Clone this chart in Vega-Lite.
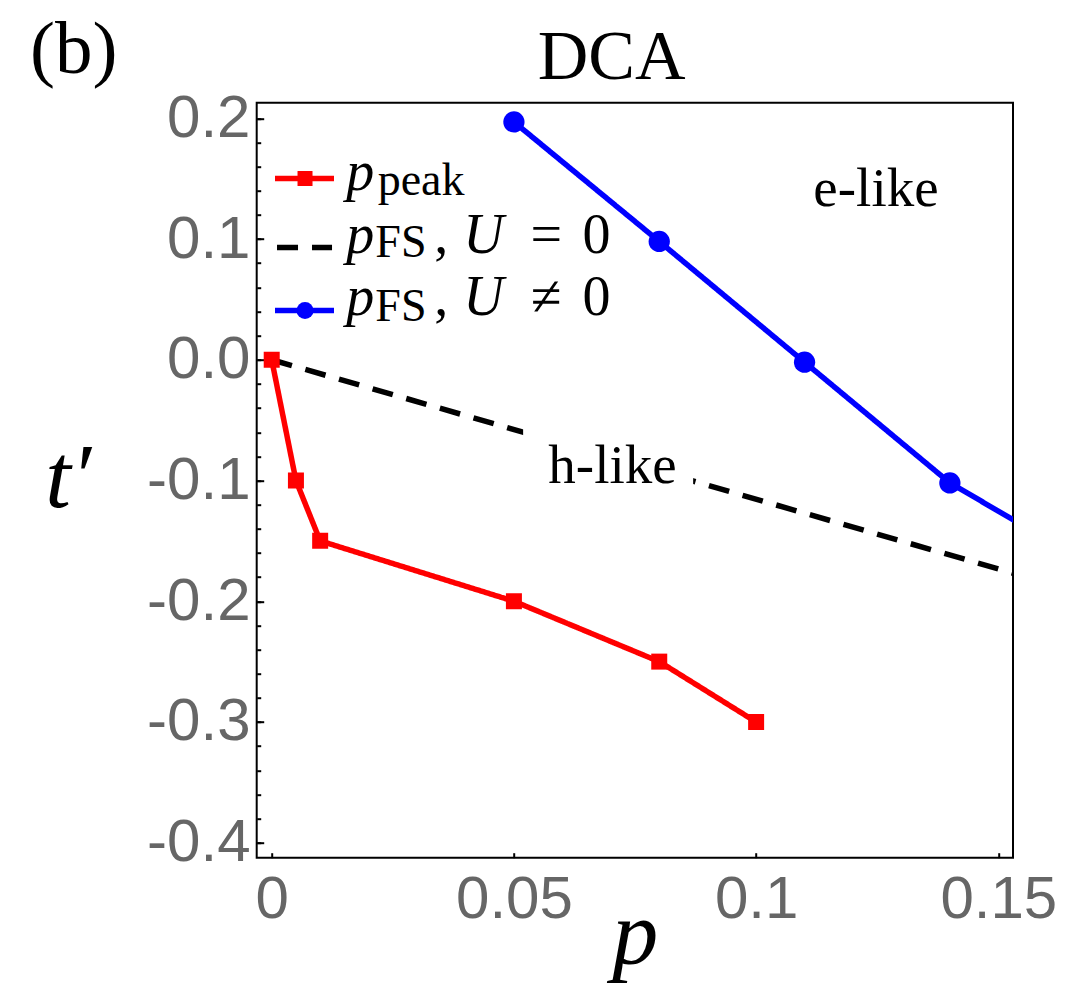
{
  "$schema": "https://vega.github.io/schema/vega-lite/v6.json",
  "width": 756.3,
  "height": 755,
  "autosize": {"type": "none"},
  "padding": {"left": 256.7, "top": 102.7, "right": 54, "bottom": 126.3},
  "background": "white",
  "config": {
    "view": {"stroke": "#000000", "strokeWidth": 2},
    "axis": {"grid": false, "domain": false}
  },
  "datasets": {
    "main": [
      {"series": "a_peak", "p": 0, "t": 0},
      {"series": "a_peak", "p": 0.005, "t": -0.1},
      {"series": "a_peak", "p": 0.01, "t": -0.15},
      {"series": "a_peak", "p": 0.05, "t": -0.2},
      {"series": "a_peak", "p": 0.08, "t": -0.25},
      {"series": "a_peak", "p": 0.1, "t": -0.3},
      {"series": "b_U0", "p": 0, "t": 0},
      {"series": "b_U0", "p": 0.2, "t": -0.231},
      {"series": "c_U1", "p": 0.05, "t": 0.197},
      {"series": "c_U1", "p": 0.08, "t": 0.098},
      {"series": "c_U1", "p": 0.11, "t": -0.002},
      {"series": "c_U1", "p": 0.14, "t": -0.102},
      {"series": "c_U1", "p": 0.17, "t": -0.172}
    ],
    "mask": [{"p1": 0.0519, "p2": 0.087, "t1": -0.045, "t2": -0.115}],
    "legline": [
      {"series": "a_peak", "x": 0.000681, "y": 0.1501},
      {"series": "a_peak", "x": 0.01286, "y": 0.1501},
      {"series": "b_U0", "x": 0.001094, "y": 0.0929},
      {"series": "b_U0", "x": 0.01245, "y": 0.0929},
      {"series": "c_U1", "x": 0.000681, "y": 0.0408},
      {"series": "c_U1", "x": 0.01286, "y": 0.0408}
    ],
    "legital": [
      {"x": 0.0183, "y": 0.1409, "text": "p"},
      {"x": 0.0183, "y": 0.0888, "text": "p"},
      {"x": 0.04372, "y": 0.0888, "text": "U"},
      {"x": 0.0183, "y": 0.0367, "text": "p"},
      {"x": 0.04372, "y": 0.0367, "text": "U"}
    ],
    "legroman": [
      {"x": 0.03500, "y": 0.0888, "text": ","},
      {"x": 0.05668, "y": 0.0888, "text": "="},
      {"x": 0.06704, "y": 0.0888, "text": "0"},
      {"x": 0.03500, "y": 0.0367, "text": ","},
      {"x": 0.05668, "y": 0.0367, "text": "≠"},
      {"x": 0.06704, "y": 0.0367, "text": "0"}
    ],
    "legsub": [
      {"x": 0.03083, "y": 0.1368, "text": "peak"},
      {"x": 0.02667, "y": 0.0847, "text": "FS"},
      {"x": 0.02667, "y": 0.0325, "text": "FS"}
    ],
    "notes": [
      {"x": 0.12474, "y": 0.1277, "text": "e-like"},
      {"x": 0.07035, "y": -0.10236, "text": "h-like"}
    ]
  },
  "resolve": {"axis": {"x": "independent", "y": "independent"}},
  "layer": [
    {
      "data": {"name": "main"},
      "mark": {"type": "line", "strokeWidth": 5.5, "clip": true, "strokeCap": "butt"},
      "encoding": {
        "x": {
          "field": "p", "type": "quantitative",
          "scale": {"domain": [-0.0031, 0.15303], "nice": false, "zero": false},
          "axis": {
            "orient": "bottom",
            "values": [0, 0.05, 0.1, 0.15],
            "format": "~g",
            "labelFont": "Liberation Sans", "labelFontSize": 60, "labelColor": "#666666",
            "tickSize": -5, "tickWidth": 2, "tickColor": "#000000",
            "labelPadding": 18,
            "title": "p",
            "titleFont": "Liberation Serif", "titleFontStyle": "italic", "titleFontWeight": "normal",
            "titleFontSize": 92, "titleColor": "#000000",
            "titleX": 378, "titleY": 106, "titleAlign": "center", "titleBaseline": "alphabetic", "titleAngle": 0
          }
        },
        "y": {
          "field": "t", "type": "quantitative",
          "scale": {"domain": [-0.4124, 0.2129], "nice": false, "zero": false},
          "axis": {
            "orient": "left",
            "values": [-0.4, -0.3, -0.2, -0.1, 0, 0.1, 0.2],
            "labelExpr": "datum.value < 0 ? '-' + format(-datum.value, '.1f') : format(datum.value, '.1f')",
            "labelFont": "Liberation Sans", "labelFontSize": 60, "labelColor": "#666666",
            "tickSize": -7, "tickWidth": 2, "tickColor": "#000000",
            "labelPadding": 13.7,
            "title": "t′",
            "titleFont": "Liberation Serif", "titleFontStyle": "italic", "titleFontWeight": "normal",
            "titleFontSize": 92, "titleColor": "#000000",
            "titleAngle": 0, "titleX": -189, "titleY": 404, "titleAlign": "center", "titleBaseline": "alphabetic"
          }
        },
        "color": {
          "field": "series", "type": "nominal",
          "scale": {"domain": ["a_peak", "b_U0", "c_U1"], "range": ["#ff0000", "#000000", "#0000ff"]},
          "legend": null
        },
        "strokeDash": {
          "field": "series", "type": "nominal",
          "scale": {"domain": ["a_peak", "b_U0", "c_U1"], "range": [[1, 0], [21, 14], [1, 0]]},
          "legend": null
        }
      }
    },
    {
      "data": {"name": "mask"},
      "mark": {"type": "rect", "color": "#ffffff"},
      "encoding": {
        "x": {"field": "p1", "type": "quantitative", "scale": {"domain": [-0.0031, 0.15303], "nice": false, "zero": false}, "axis": null},
        "x2": {"field": "p2"},
        "y": {
          "field": "t1", "type": "quantitative",
          "scale": {"domain": [-0.4124, 0.2129], "nice": false, "zero": false},
          "axis": {
            "orient": "left",
            "values": [-0.4, -0.38, -0.36, -0.34, -0.32, -0.3, -0.28, -0.26, -0.24, -0.22, -0.2, -0.18, -0.16, -0.14, -0.12, -0.1, -0.08, -0.06, -0.04, -0.02, 0, 0.02, 0.04, 0.06, 0.08, 0.1, 0.12, 0.14, 0.16, 0.18, 0.2],
            "labels": false, "tickSize": -4, "tickWidth": 2, "tickColor": "#000000", "title": null
          }
        },
        "y2": {"field": "t2"}
      }
    },
    {
      "data": {"name": "main"},
      "transform": [{"filter": "datum.series !== 'b_U0'"}],
      "mark": {"type": "point", "filled": true, "opacity": 1, "clip": true},
      "encoding": {
        "x": {"field": "p", "type": "quantitative", "axis": null},
        "y": {"field": "t", "type": "quantitative", "axis": null},
        "color": {"field": "series", "type": "nominal", "legend": null},
        "shape": {"field": "series", "type": "nominal", "scale": {"domain": ["a_peak", "c_U1"], "range": ["square", "circle"]}, "legend": null},
        "size": {"field": "series", "type": "nominal", "scale": {"domain": ["a_peak", "c_U1"], "range": [256, 452]}, "legend": null}
      }
    },
    {
      "data": {"name": "legline"},
      "mark": {"type": "line", "strokeWidth": 5.5, "strokeCap": "butt"},
      "encoding": {
        "x": {"field": "x", "type": "quantitative", "axis": null},
        "y": {"field": "y", "type": "quantitative", "axis": null},
        "color": {"field": "series", "type": "nominal", "legend": null},
        "strokeDash": {"field": "series", "type": "nominal", "legend": null}
      }
    },
    {
      "data": {"values": [{"x": 0.006874, "y": 0.1501}]},
      "mark": {"type": "point", "shape": "square", "filled": true, "opacity": 1, "size": 225, "color": "#ff0000"},
      "encoding": {
        "x": {"field": "x", "type": "quantitative", "axis": null},
        "y": {"field": "y", "type": "quantitative", "axis": null}
      }
    },
    {
      "data": {"values": [{"x": 0.006874, "y": 0.0408}]},
      "mark": {"type": "point", "shape": "circle", "filled": true, "opacity": 1, "size": 290, "color": "#0000ff"},
      "encoding": {
        "x": {"field": "x", "type": "quantitative", "axis": null},
        "y": {"field": "y", "type": "quantitative", "axis": null}
      }
    },
    {
      "data": {"name": "legital"},
      "mark": {"type": "text", "font": "Liberation Serif", "fontStyle": "italic", "fontSize": 56, "align": "center", "baseline": "alphabetic", "color": "#000000"},
      "encoding": {
        "x": {"field": "x", "type": "quantitative", "axis": null},
        "y": {"field": "y", "type": "quantitative", "axis": null},
        "text": {"field": "text"}
      }
    },
    {
      "data": {"name": "legroman"},
      "mark": {"type": "text", "font": "Liberation Serif", "fontSize": 56, "align": "center", "baseline": "alphabetic", "color": "#000000"},
      "encoding": {
        "x": {"field": "x", "type": "quantitative", "axis": null},
        "y": {"field": "y", "type": "quantitative", "axis": null},
        "text": {"field": "text"}
      }
    },
    {
      "data": {"name": "legsub"},
      "mark": {"type": "text", "font": "Liberation Serif", "fontSize": 46, "align": "center", "baseline": "alphabetic", "color": "#000000"},
      "encoding": {
        "x": {"field": "x", "type": "quantitative", "axis": null},
        "y": {"field": "y", "type": "quantitative", "axis": null},
        "text": {"field": "text"}
      }
    },
    {
      "data": {"name": "notes"},
      "mark": {"type": "text", "font": "Liberation Serif", "fontSize": 55, "align": "center", "baseline": "alphabetic", "color": "#000000"},
      "encoding": {
        "x": {"field": "x", "type": "quantitative", "axis": null},
        "y": {"field": "y", "type": "quantitative", "axis": null},
        "text": {"field": "text"}
      }
    },
    {
      "data": {"values": [{"x": 0.07015, "y": 0.2328, "text": "DCA"}]},
      "mark": {"type": "text", "font": "Liberation Serif", "fontSize": 70, "align": "center", "baseline": "alphabetic", "color": "#000000"},
      "encoding": {
        "x": {"field": "x", "type": "quantitative", "axis": null},
        "y": {"field": "y", "type": "quantitative", "axis": null},
        "text": {"field": "text"}
      }
    },
    {
      "data": {"values": [{"x": -0.0499, "y": 0.2377, "text": "(b)"}]},
      "mark": {"type": "text", "font": "Liberation Serif", "fontSize": 75, "align": "left", "baseline": "alphabetic", "color": "#000000"},
      "encoding": {
        "x": {"field": "x", "type": "quantitative", "axis": null},
        "y": {"field": "y", "type": "quantitative", "axis": null},
        "text": {"field": "text"}
      }
    }
  ]
}
